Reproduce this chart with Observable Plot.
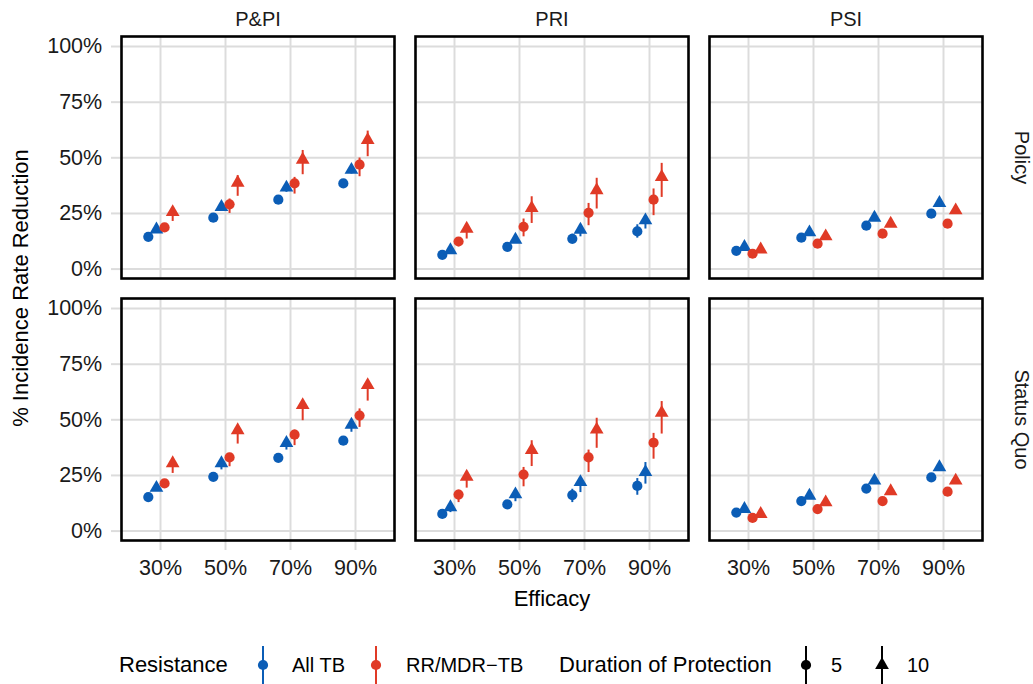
<!DOCTYPE html>
<html><head><meta charset="utf-8">
<script src="https://cdn.jsdelivr.net/npm/d3@7"></script>
<script src="https://cdn.jsdelivr.net/npm/@observablehq/plot@0.6"></script>
<style>
body{margin:0;background:#fff;font-family:"Liberation Sans",Arial,sans-serif;}
#chart{position:relative;width:1033px;height:684px;background:#fff;}
#legend{position:absolute;left:0;top:630px;width:1033px;height:54px;color:#000;}
#legend .t{position:absolute;white-space:nowrap;transform:translateY(-50%);}
#legend svg{position:absolute;overflow:visible;}
</style></head><body><div id="chart"></div>
<script>
const efficacies = ["30%", "50%", "70%", "90%"];
const strategies = ["P&PI", "PRI", "PSI"];
const scenarios = ["Policy", "Status Quo"];
const resistances = ["All TB", "RR/MDR\u2212TB"];
const durations = ["5", "10"];
const resistanceColors = ["#0b5db6", "#e03a26"];
const durationSymbols = ["circle", "triangle"];
const yTicks = [0, 25, 50, 75, 100];

// rows: All TB/5, All TB/10, RR/MDR-TB/5, RR/MDR-TB/10 ; columns: efficacies
const ppiPolicyMid = [[14.5, 23.1, 31.2, 38.5], [17.8, 27.9, 36.6, 44.6], [18.7, 29.1, 38.5, 46.9], [25.6, 38.8, 49.1, 58.0]];
const ppiPolicyLo  = [[14.0, 22.6, 30.7, 38.0], [17.0, 26.2, 34.5, 42.7], [16.5, 25.0, 33.7, 41.5], [21.4, 32.7, 42.4, 50.5]];
const ppiPolicyHi  = [[15.0, 23.6, 31.7, 39.0], [18.6, 28.8, 37.5, 45.5], [19.8, 31.5, 41.2, 49.9], [27.5, 42.0, 53.3, 62.0]];

const priPolicyMid = [[6.4, 10.0, 13.6, 16.9], [8.5, 13.2, 17.7, 21.9], [12.4, 19.0, 25.3, 31.2], [18.1, 27.4, 35.4, 41.4]];
const priPolicyLo  = [[6.0, 9.3, 11.5, 13.9], [7.5, 11.5, 14.5, 18.0], [10.0, 14.5, 19.5, 24.0], [13.5, 20.5, 27.0, 32.2]];
const priPolicyHi  = [[6.8, 10.7, 15.7, 19.9], [9.3, 14.5, 19.0, 23.5], [14.2, 22.5, 29.5, 36.0], [19.5, 32.5, 40.8, 47.5]];

const psiPolicyMid = [[8.2, 14.1, 19.5, 24.9], [9.9, 16.5, 23.1, 29.7], [6.9, 11.4, 15.9, 20.4], [8.8, 14.7, 20.4, 26.4]];
const psiPolicyLo  = [[7.7, 13.6, 19.0, 24.4], [9.3, 15.9, 22.5, 29.1], [6.4, 10.9, 15.4, 19.9], [8.2, 14.1, 19.8, 25.8]];
const psiPolicyHi  = [[8.7, 14.6, 20.0, 25.4], [10.5, 17.1, 23.7, 30.3], [7.4, 11.9, 16.4, 20.9], [9.4, 15.3, 21.0, 27.0]];

const ppiSqMid = [[15.3, 24.4, 32.9, 40.6], [19.4, 30.5, 39.6, 47.8], [21.4, 33.1, 43.3, 51.9], [30.5, 45.3, 56.6, 65.6]];
const ppiSqLo  = [[14.8, 23.9, 32.4, 40.1], [18.4, 27.5, 36.4, 44.4], [19.8, 28.9, 38.4, 46.6], [25.9, 39.1, 49.6, 58.4]];
const ppiSqHi  = [[15.8, 24.9, 33.4, 41.1], [20.2, 31.3, 40.5, 48.8], [22.8, 34.9, 45.4, 54.9], [31.5, 46.5, 57.8, 67.0]];

const priSqMid = [[7.7, 12.0, 16.2, 20.3], [10.7, 16.5, 22.0, 26.5], [16.4, 25.4, 33.1, 39.7], [24.4, 36.4, 45.6, 53.1]];
const priSqLo  = [[7.2, 9.8, 12.8, 16.1], [8.3, 13.2, 17.3, 21.1], [12.8, 19.9, 26.3, 32.3], [19.3, 29.0, 37.2, 43.6]];
const priSqHi  = [[8.2, 13.5, 18.8, 23.6], [11.5, 17.5, 23.0, 30.8], [18.4, 28.6, 36.4, 43.9], [25.5, 40.6, 50.7, 58.2]];

const psiSqMid = [[8.3, 13.5, 19.1, 24.1], [9.9, 15.9, 22.7, 28.7], [5.9, 9.9, 13.5, 17.7], [7.7, 12.9, 17.9, 22.7]];
const psiSqLo  = [[7.8, 13.0, 18.6, 23.6], [9.3, 15.3, 22.1, 28.1], [5.4, 9.4, 13.0, 17.2], [7.1, 12.3, 17.3, 22.1]];
const psiSqHi  = [[8.8, 14.0, 19.6, 24.6], [10.5, 16.5, 23.3, 29.3], [6.4, 10.4, 14.0, 18.2], [8.3, 13.5, 18.5, 23.3]];

const panels = [
  {strategy: "P&PI", scenario: "Policy", mid: ppiPolicyMid, lo: ppiPolicyLo, hi: ppiPolicyHi},
  {strategy: "PRI", scenario: "Policy", mid: priPolicyMid, lo: priPolicyLo, hi: priPolicyHi},
  {strategy: "PSI", scenario: "Policy", mid: psiPolicyMid, lo: psiPolicyLo, hi: psiPolicyHi},
  {strategy: "P&PI", scenario: "Status Quo", mid: ppiSqMid, lo: ppiSqLo, hi: ppiSqHi},
  {strategy: "PRI", scenario: "Status Quo", mid: priSqMid, lo: priSqLo, hi: priSqHi},
  {strategy: "PSI", scenario: "Status Quo", mid: psiSqMid, lo: psiSqLo, hi: psiSqHi}
];

const dodgeWidth = 0.5;
const nGroups = resistances.length * durations.length;
const rows = [];
panels.forEach(p => p.mid.forEach((vals, s) => vals.forEach((v, e) => rows.push({
  strategy: p.strategy, scenario: p.scenario,
  efficacy: efficacies[e],
  resistance: resistances[Math.floor(s / durations.length)],
  duration: durations[s % durations.length],
  x: e + (s - (nGroups - 1) / 2) * dodgeWidth / nGroups,
  mid: v, lo: p.lo[s][e], hi: p.hi[s][e]
}))));

const W = 1033, H = 630;
const font = "'Liberation Sans', Arial, sans-serif";
const gridColor = "#dcdcdc";
const effIdx = efficacies.map((_, i) => i);
const dotR = 5.1;

const plot = Plot.plot({
  width: W, height: H,
  marginLeft: 121, marginRight: 50, marginTop: 36, marginBottom: 90,
  style: {fontFamily: font, background: "white", color: "#1a1a1a"},
  fx: {domain: strategies, axis: null, paddingInner: 0.0714, paddingOuter: 0},
  fy: {domain: scenarios, axis: null, paddingInner: 0.0767, paddingOuter: 0},
  x: {domain: [-0.6, efficacies.length - 1 + 0.6]},
  y: {domain: [-4.23, 104.5]},
  color: {domain: resistances, range: resistanceColors},
  symbol: {domain: durations, range: durationSymbols},
  marks: [
    Plot.gridX(effIdx, {stroke: gridColor, strokeOpacity: 1, strokeWidth: 2}),
    Plot.gridY(yTicks, {stroke: gridColor, strokeOpacity: 1, strokeWidth: 2}),
    Plot.axisX(effIdx, {tickFormat: i => efficacies[i], tickSize: 10, tickPadding: 9.3,
      stroke: gridColor, strokeWidth: 2, fill: "#1a1a1a", fontSize: 21.5, label: null}),
    Plot.axisY(yTicks, {tickFormat: d => d + "%", tickSize: 10, tickPadding: 9.3,
      stroke: gridColor, strokeWidth: 2, fill: "#1a1a1a", fontSize: 21.5, label: null}),
    Plot.ruleX(rows, {fx: "strategy", fy: "scenario", x: "x", y1: "lo", y2: "hi",
      stroke: "resistance", strokeWidth: 2}),
    Plot.dot(rows, {fx: "strategy", fy: "scenario", x: "x", y: "mid",
      fill: "resistance", symbol: "duration", r: dotR}),
    Plot.frame({stroke: "black", strokeWidth: 2.6}),
    Plot.text(strategies, {fx: d => d, fy: () => scenarios[0], text: d => d,
      frameAnchor: "top", dy: -17, lineAnchor: "middle", textAnchor: "middle",
      fontSize: 20, fill: "#1a1a1a"}),
    Plot.text(scenarios, {fy: d => d, fx: () => strategies[strategies.length - 1], text: d => d,
      frameAnchor: "right", dx: 38.5, rotate: 90, lineAnchor: "middle", textAnchor: "middle",
      fontSize: 20, fill: "#1a1a1a"})
  ]
});

const svg = d3.select(plot);
svg.append("text")
  .attr("transform", `translate(20,${(36 + 540) / 2}) rotate(-90)`)
  .attr("text-anchor", "middle").attr("dominant-baseline", "central")
  .attr("font-size", 22).attr("font-family", font).attr("fill", "#000")
  .text("% Incidence Rate Reduction");
svg.append("text")
  .attr("x", (121 + 983) / 2).attr("y", 598)
  .attr("text-anchor", "middle").attr("dominant-baseline", "central")
  .attr("font-size", 22).attr("font-family", font).attr("fill", "#000")
  .text("Efficacy");

const chart = document.getElementById("chart");
chart.appendChild(plot);

// legend
const legend = document.createElement("div");
legend.id = "legend";
chart.appendChild(legend);
const cy = 35;
function addText(txt, left, size) {
  const d = document.createElement("div");
  d.className = "t"; d.textContent = txt;
  d.style.left = left + "px"; d.style.top = cy + "px"; d.style.fontSize = size + "px";
  legend.appendChild(d);
}
function addKey(cx, color, symbol) {
  const s = d3.create("svg").attr("width", 20).attr("height", 38)
    .style("left", (cx - 10) + "px").style("top", (cy - 19) + "px");
  s.append("line").attr("x1", 10).attr("x2", 10).attr("y1", 0).attr("y2", 38)
    .attr("stroke", color).attr("stroke-width", 2);
  const sym = symbol === "triangle" ? d3.symbolTriangle : d3.symbolCircle;
  s.append("path").attr("d", d3.symbol(sym, Math.PI * dotR * dotR)())
    .attr("transform", "translate(10,19)").attr("fill", color);
  legend.appendChild(s.node());
}
addText("Resistance", 119, 22);
addKey(263, resistanceColors[0], "circle");
addText(resistances[0], 292, 20);
addKey(376, resistanceColors[1], "circle");
addText(resistances[1], 406, 20);
addText("Duration of Protection", 559, 22);
addKey(806, "#000", durationSymbols[0]);
addText(durations[0], 831, 20);
addKey(882, "#000", durationSymbols[1]);
addText(durations[1], 907, 20);
</script>
</body></html>
